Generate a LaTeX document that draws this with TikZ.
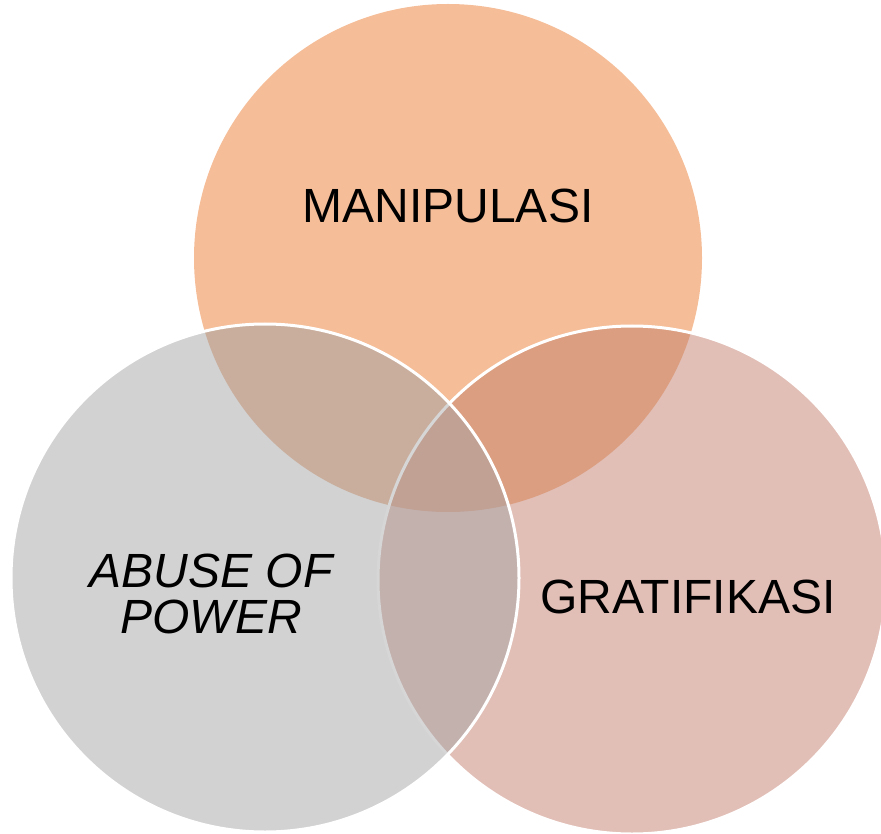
\documentclass[tikz,border=0pt]{standalone}
\usepackage{fontspec}
\setmainfont{Liberation Sans}
\definecolor{cTop}{HTML}{F5BD98}
\definecolor{cLeft}{HTML}{D2D2D2}
\definecolor{cRight}{HTML}{E1BEB6}
\definecolor{cTL}{HTML}{C9AE9D}
\definecolor{cTR}{HTML}{DB9E81}
\definecolor{cLR}{HTML}{C3B1AE}
\definecolor{cTLR}{HTML}{C1A194}
\definecolor{cLine}{HTML}{D6D6D6}
\begin{document}
\begin{tikzpicture}[x=1pt,y=-1pt,
  rim/.style={draw=white,line width=3pt},
  lbl/.style={font=\fontsize{48}{46}\selectfont,text=black,inner sep=0pt,anchor=base}]
\useasboundingbox (0,0) rectangle (881,834);
\def\R{254}
\coordinate (ct) at (448,258);
\coordinate (cl) at (265,578);
\coordinate (cr) at (632,580);
% top circle
\fill[cTop] (ct) circle (\R);
% right circle
\fill[cRight] (cr) circle (\R);
\begin{scope}
  \clip (ct) circle (\R);
  \fill[cTR] (cr) circle (\R);
\end{scope}
\draw[rim] (cr) circle (\R);
% left circle
\fill[cLeft] (cl) circle (\R);
\begin{scope}
  \clip (cl) circle (\R);
  \fill[cTL] (ct) circle (\R);
  \fill[cLR] (cr) circle (\R);
  \begin{scope}
    \clip (ct) circle (\R);
    \fill[cTLR] (cr) circle (\R);
  \end{scope}
  \draw[cLine,line width=3pt] (cr) circle (\R);
\end{scope}
\draw[rim] (cl) circle (\R);
% labels
\node[lbl] (manip) at (448,223) {MANIPULASI};
\node[lbl] (grat) at (688,613) {GRATIFIKASI};
\node[lbl] (abuse1) at (211,587) {\itshape ABUSE OF};
\node[lbl] (abuse2) at (211,633) {\itshape POWER};
\end{tikzpicture}
\end{document}
